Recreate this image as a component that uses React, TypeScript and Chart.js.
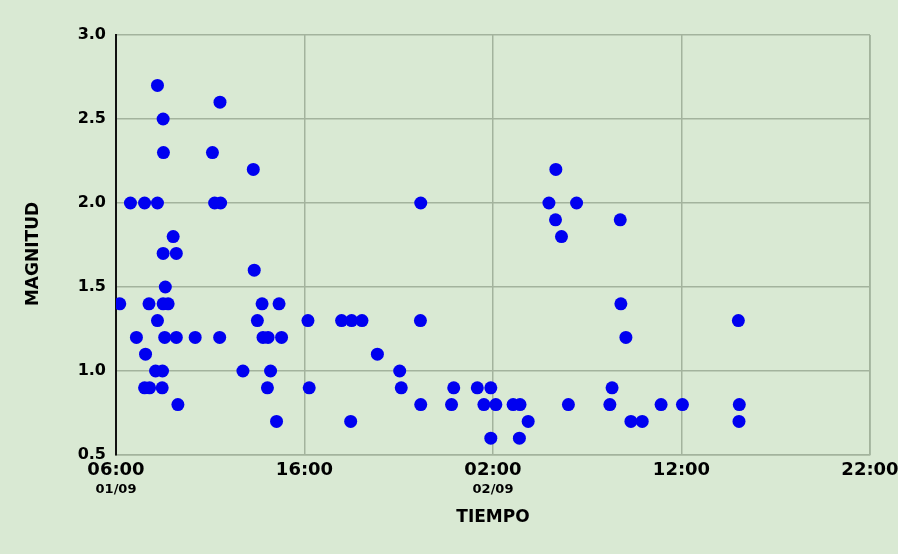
import React, { useEffect, useRef } from "react";
import { Chart, registerables } from "chart.js";

Chart.register(...registerables);

// Event times (dd/mm HH:MM) and magnitudes
const times: string[] = [
  "01/09 06:12", "01/09 06:46", "01/09 07:05", "01/09 07:31", "01/09 07:34", "01/09 07:31",
  "01/09 07:47", "01/09 07:45", "01/09 08:12", "01/09 08:12", "01/09 08:12", "01/09 08:06",
  "01/09 08:28", "01/09 08:27", "01/09 08:30", "01/09 08:31", "01/09 08:30", "01/09 08:37",
  "01/09 08:30", "01/09 08:46", "01/09 08:35", "01/09 09:02", "01/09 09:12", "01/09 09:12",
  "01/09 09:17", "01/09 10:12", "01/09 11:07", "01/09 11:14", "01/09 11:33", "01/09 11:31",
  "01/09 11:30", "01/09 12:44", "01/09 13:17", "01/09 13:20", "01/09 13:30", "01/09 13:45",
  "01/09 13:48", "01/09 14:04", "01/09 14:02", "01/09 14:12", "01/09 14:31", "01/09 14:39",
  "01/09 14:47", "01/09 16:11", "01/09 16:15", "01/09 17:58", "01/09 18:27", "01/09 18:30",
  "01/09 19:03", "01/09 19:52", "01/09 21:03", "01/09 21:08", "01/09 22:09", "01/09 22:10",
  "01/09 22:10", "01/09 23:48", "01/09 23:55", "02/09 01:10", "02/09 01:31", "02/09 01:53",
  "02/09 01:53", "02/09 02:09", "02/09 03:04", "02/09 03:26", "02/09 03:24", "02/09 03:52",
  "02/09 04:58", "02/09 05:20", "02/09 05:19", "02/09 05:38", "02/09 06:00", "02/09 06:26",
  "02/09 08:12", "02/09 08:19", "02/09 08:45", "02/09 08:47", "02/09 09:03", "02/09 09:19",
  "02/09 09:55", "02/09 10:55", "02/09 12:03", "02/09 15:01", "02/09 15:04", "02/09 15:03",
];

const magnitudes: number[] = [
  1.4, 2.0, 1.2, 2.0, 1.1, 0.9,
  0.9, 1.4, 2.7, 2.0, 1.3, 1.0,
  1.0, 0.9, 2.5, 2.3, 1.7, 1.5,
  1.4, 1.4, 1.2, 1.8, 1.7, 1.2,
  0.8, 1.2, 2.3, 2.0, 2.0, 2.6,
  1.2, 1.0, 2.2, 1.6, 1.3, 1.4,
  1.2, 1.2, 0.9, 1.0, 0.7, 1.4,
  1.2, 1.3, 0.9, 1.3, 0.7, 1.3,
  1.3, 1.1, 1.0, 0.9, 1.3, 2.0,
  0.8, 0.8, 0.9, 0.9, 0.8, 0.9,
  0.6, 0.8, 0.8, 0.8, 0.6, 0.7,
  2.0, 2.2, 1.9, 1.8, 0.8, 2.0,
  0.8, 0.9, 1.9, 1.4, 1.2, 0.7,
  0.7, 0.8, 0.8, 1.3, 0.8, 0.7,
];

// X axis range in hours since 01/09 00:00
const xMinHours = 6; // 06:00 01/09
const xMaxHours = 46; // 22:00 02/09
const xStepHours = 10;
const dateLabels: { hours: number; text: string }[] = [
  { hours: 6, text: "01/09" },
  { hours: 26, text: "02/09" },
];
const yMin = 0.5;
const yMax = 3.0;
const yStep = 0.5;

const xTitle = "TIEMPO";
const yTitle = "MAGNITUD";

const BG = "#d9e9d3";
const GRID = "#a3b39d";
const DOT = "#0000f0";
const FONT = "'DejaVu Sans', Verdana, sans-serif";

function toHours(s: string): number {
  const day = parseInt(s.slice(0, 2), 10);
  const hh = parseInt(s.slice(6, 8), 10);
  const mm = parseInt(s.slice(9, 11), 10);
  return (day - 1) * 24 + hh + mm / 60;
}

const extraText = {
  id: "extraText",
  afterDraw(chart: any) {
    const { ctx, chartArea, scales } = chart;
    const xs = scales.x;
    ctx.save();
    ctx.fillStyle = "#000";
    ctx.textAlign = "center";
    ctx.textBaseline = "middle";
    ctx.font = `bold 13px ${FONT}`;
    dateLabels.forEach((d) => {
      ctx.fillText(d.text, xs.getPixelForValue(d.hours), chartArea.bottom + 35);
    });
    ctx.font = `bold 17px ${FONT}`;
    ctx.fillText(xTitle, (chartArea.left + chartArea.right) / 2, chartArea.bottom + 63);
    ctx.translate(34, (chartArea.top + chartArea.bottom) / 2 + 9);
    ctx.rotate(-Math.PI / 2);
    ctx.fillText(yTitle, 0, 0);
    ctx.restore();
  },
};

export default function App() {
  const ref = useRef<HTMLCanvasElement | null>(null);

  useEffect(() => {
    if (!ref.current) return;
    const points = times.map((t, i) => ({ x: toHours(t), y: magnitudes[i] }));
    const chart = new Chart(ref.current, {
      type: "scatter",
      data: {
        datasets: [
          {
            data: points,
            pointRadius: 6.5,
            pointHoverRadius: 6.5,
            pointBackgroundColor: DOT,
            pointBorderWidth: 0,
            borderWidth: 0,
          },
        ],
      },
      options: {
        animation: false,
        responsive: false,
        events: [],
        layout: { padding: { top: 35, right: 28, left: 0, bottom: 0 } },
        plugins: { legend: { display: false }, tooltip: { enabled: false } },
        scales: {
          x: {
            type: "linear",
            min: xMinHours,
            max: xMaxHours,
            ticks: {
              stepSize: xStepHours,
              color: "#000",
              font: { family: FONT, size: 18, weight: "bold" },
              padding: 5,
              maxRotation: 0,
              callback: (v: any) => {
                const h = ((Number(v) % 24) + 24) % 24;
                return `${String(Math.round(h)).padStart(2, "0")}:00`;
              },
            },
            grid: { color: GRID, lineWidth: 1.5, drawTicks: false },
            border: { display: true, color: GRID, width: 1.5 },
            afterFit: (scale: any) => {
              scale.height = 99;
              scale.paddingLeft = 0;
              scale.paddingRight = 0;
            },
          },
          y: {
            min: yMin,
            max: yMax,
            ticks: {
              stepSize: yStep,
              color: "#000",
              font: { family: FONT, size: 16, weight: "bold" },
              padding: 10,
              callback: (v: any) => Number(v).toFixed(1),
            },
            grid: { color: GRID, lineWidth: 1.5, drawTicks: false },
            border: { display: true, color: "#111", width: 2 },
            afterFit: (scale: any) => {
              scale.width = 116;
              scale.paddingTop = 0;
              scale.paddingBottom = 0;
            },
          },
          x2: {
            type: "linear",
            position: "top",
            display: false,
          },
        },
      },
      plugins: [
        extraText,
        {
          id: "rightBorder",
          afterDatasetsDraw() {},
          beforeDatasetsDraw(c: any) {
            const { ctx, chartArea } = c;
            ctx.save();
            ctx.strokeStyle = GRID;
            ctx.lineWidth = 1.5;
            ctx.beginPath();
            ctx.moveTo(chartArea.right, chartArea.top);
            ctx.lineTo(chartArea.right, chartArea.bottom);
            ctx.stroke();
            ctx.restore();
          },
        },
      ],
    });
    return () => chart.destroy();
  }, []);

  return (
    <div
      style={{
        position: "fixed",
        left: 0,
        top: 0,
        width: 898,
        height: 554,
        background: BG,
      }}
    >
      <canvas ref={ref} width={898} height={554} style={{ display: "block" }} />
    </div>
  );
}
